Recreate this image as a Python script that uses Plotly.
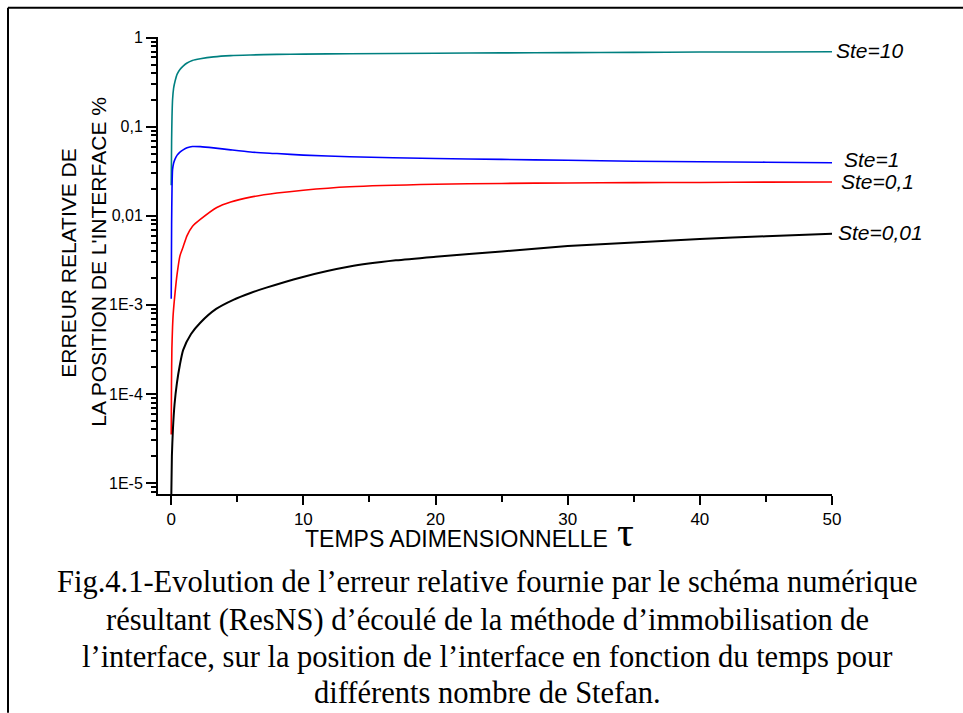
import math
import plotly.graph_objects as go

# ---- data ----
tau_10 = [0, 0.03, 0.06, 0.1, 0.18, 0.28, 0.45, 0.66, 0.9, 1.2, 1.6, 2.2, 3.2, 4.5, 6, 8, 10, 13.5, 20, 25, 30, 35, 40, 45, 50]
err_10 = [0.022, 0.07, 0.13, 0.2, 0.27, 0.32, 0.39, 0.44, 0.48, 0.52, 0.555, 0.58, 0.61, 0.63, 0.64, 0.65, 0.655, 0.66, 0.67, 0.675, 0.68, 0.685, 0.69, 0.692, 0.695]

tau_1 = [0, 0.03, 0.06, 0.1, 0.18, 0.28, 0.45, 0.66, 0.9, 1.2, 1.6, 2.2, 3.2, 4.5, 6, 8, 10, 13.5, 20, 25, 30, 35, 40, 45, 50]
err_1 = [0.00117, 0.008, 0.02, 0.033, 0.039, 0.043, 0.048, 0.052, 0.055, 0.058, 0.060, 0.0598, 0.058, 0.055, 0.052, 0.050, 0.048, 0.046, 0.044, 0.043, 0.042, 0.041, 0.0405, 0.040, 0.0395]

tau_01 = [0, 0.02, 0.05, 0.1, 0.15, 0.3, 0.45, 0.66, 0.9, 1.2, 1.6, 2.2, 3.45, 4.5, 6, 8, 10, 13.5, 20, 25, 30, 35, 40, 45, 50]
err_01 = [3.5e-5, 1.26e-4, 3.2e-4, 5.6e-4, 7.9e-4, 1.41e-3, 2.24e-3, 3.55e-3, 4.47e-3, 6.0e-3, 7.6e-3, 9.1e-3, 0.0124, 0.0143, 0.0162, 0.0180, 0.0194, 0.0212, 0.0226, 0.0231, 0.0234, 0.0236, 0.0237, 0.0239, 0.024]

tau_001 = [0, 0.05, 0.13, 0.25, 0.43, 0.65, 0.9, 1.5, 2.2, 3.4, 4.7, 6, 7.2, 9.75, 13.5, 17, 20, 25, 30, 35, 40, 45, 50]
err_001 = [6.3e-6, 2.0e-5, 4.0e-5, 7.6e-5, 1.32e-4, 2.1e-4, 3.1e-4, 4.7e-4, 6.3e-4, 9.0e-4, 1.14e-3, 1.36e-3, 1.56e-3, 2.02e-3, 2.69e-3, 3.16e-3, 3.47e-3, 3.98e-3, 4.57e-3, 5.0e-3, 5.5e-3, 5.9e-3, 6.3e-3]

series_names = ["Ste=10", "Ste=1", "Ste=0,1", "Ste=0,01"]
series_colors = ["#008080", "#0000FF", "#FF0000", "#000000"]

x_dtick, x_minor_dtick = 10, 5
y_exponents = [-5, -4, -3, -2, -1, 0]
y_ticktext = ["1E-5", "1E-4", "1E-3", "0,01", "0,1", "1"]

y_title_1 = "ERREUR RELATIVE DE"
y_title_2 = "LA POSITION DE L'INTERFACE %"
x_title = "TEMPS ADIMENSIONNELLE"
caption_lines = ["Fig.4.1-Evolution de l’erreur relative fournie par le schéma numérique",
                 "résultant (ResNS) d’écoulé de la méthode d’immobilisation de",
                 "l’interface, sur la position de l’interface en fonction du temps pour",
                 "différents nombre de Stefan."]

W, H = 963, 713
L, R, T, B = 158, 832, 37.3, 494.3
X_RANGE = [-1, 50]
Y_RANGE = [-5.124, 0.008]


def px(x):
    return (x - L) / (R - L)


def py(y):
    return (B - y) / (B - T)


# map default ".0e" labels (hyphen or unicode minus) to the reference texts
alias = {}
for ex, txt in zip(y_exponents, y_ticktext):
    sign = "-" if ex < 0 else "+"
    for s in (sign, "\u2212" if ex < 0 else "+"):
        alias["1e%s%d" % (s, abs(ex))] = txt

fig = go.Figure()
all_tau = [tau_10, tau_1, tau_01, tau_001]
all_err = [err_10, err_1, err_01, err_001]
for name, col, t, e in zip(series_names, series_colors, all_tau, all_err):
    fig.add_trace(go.Scatter(x=t, y=e, mode="lines", name=name,
                             line=dict(color=col, width=1.6 if col != "#000000" else 2,
                                       shape="spline", smoothing=0.6),
                             showlegend=False))

SANS = "Liberation Sans, Arial, sans-serif"
SERIF = "Liberation Serif, Times New Roman, serif"

fig.update_layout(
    width=W, height=H,
    margin=dict(l=L, r=W - R, t=T, b=H - B, pad=0),
    paper_bgcolor="white", plot_bgcolor="white",
    xaxis=dict(range=X_RANGE, showgrid=False, zeroline=False,
               showline=True, linecolor="black", linewidth=2,
               tickmode="linear", tick0=0, dtick=x_dtick,
               ticks="outside", ticklen=9, tickwidth=2, tickcolor="black",
               tickfont=dict(family=SANS, size=17, color="black"),
               minor=dict(dtick=x_minor_dtick, tick0=0, ticks="outside", ticklen=6,
                          tickwidth=2, tickcolor="black", showgrid=False)),
    yaxis=dict(type="log", range=Y_RANGE, showgrid=False, zeroline=False,
               showline=True, linecolor="black", linewidth=2,
               tickmode="linear", tick0=0, dtick=1, tickformat=".0e", labelalias=alias,
               ticks="outside", ticklen=10, tickwidth=2, tickcolor="black",
               tickfont=dict(family=SANS, size=16, color="black"),
               minor=dict(dtick="D1", ticks="outside", ticklen=5,
                          tickwidth=2, tickcolor="black", showgrid=False)),
)

ann = []
label_dx = [2, 10, 7, 4]
label_dy = [1.3, 3, 0, 1]
for name, e, dx, dy in zip(series_names, all_err, label_dx, label_dy):
    ann.append(dict(x=50, y=math.log10(e[-1]), xref="x", yref="y", text="<i>" + name + "</i>",
                    showarrow=False, xanchor="left", yanchor="middle",
                    xshift=dx, yshift=dy,
                    font=dict(family=SANS, size=21, color="black")))
ann.append(dict(x=px(69), y=py(263), xref="paper", yref="paper", text=y_title_1,
                textangle=-90, showarrow=False, xanchor="center", yanchor="middle",
                font=dict(family=SANS, size=21, color="black")))
ann.append(dict(x=px(99), y=py(262), xref="paper", yref="paper", text=y_title_2,
                textangle=-90, showarrow=False, xanchor="center", yanchor="middle",
                font=dict(family=SANS, size=21, color="black")))
ann.append(dict(x=px(610), y=py(539), xref="paper", yref="paper", text=x_title,
                showarrow=False, xanchor="right", yanchor="middle",
                font=dict(family=SANS, size=23, color="black")))
ann.append(dict(x=px(615), y=py(532), xref="paper", yref="paper", text="τ",
                showarrow=False, xanchor="left", yanchor="middle",
                font=dict(family=SERIF, size=42, color="black")))
for line, yc in zip(caption_lines, [582, 620, 657, 693]):
    ann.append(dict(x=px(487), y=py(yc), xref="paper", yref="paper", text=line,
                    showarrow=False, xanchor="center", yanchor="middle",
                    font=dict(family=SERIF, size=30.5, color="black")))
fig.update_layout(annotations=ann)

# outer frame (top and left edges visible)
fig.add_shape(type="line", xref="paper", yref="paper", x0=px(8), x1=px(963), y0=py(8), y1=py(8),
              line=dict(color="black", width=2))
fig.add_shape(type="line", xref="paper", yref="paper", x0=px(8), x1=px(8), y0=py(8), y1=py(713),
              line=dict(color="black", width=2))

fig.write_html("out.html")
